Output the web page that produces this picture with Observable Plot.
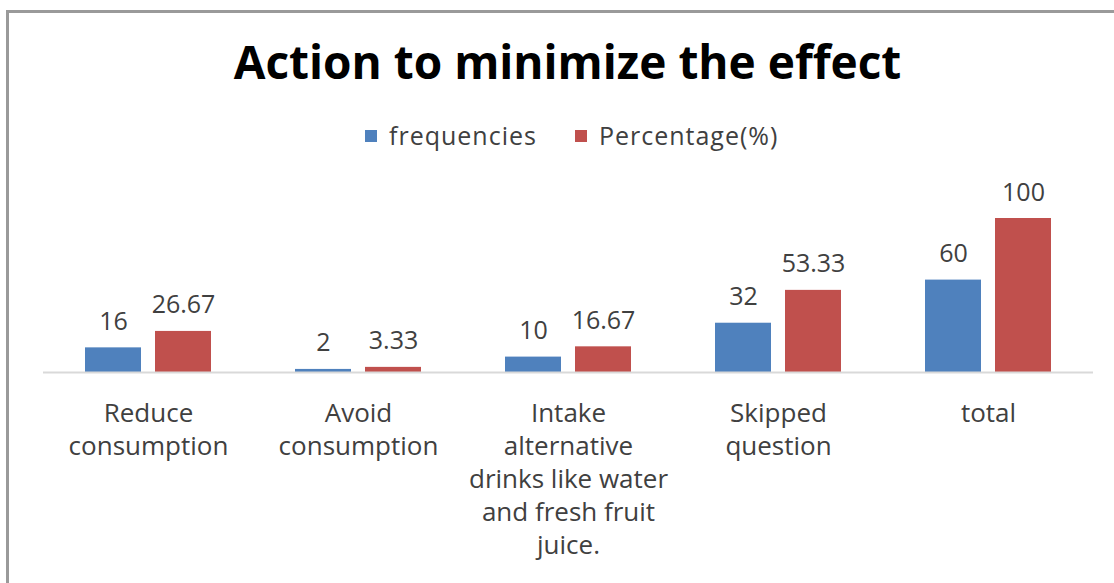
<!DOCTYPE html>
<html>
<head>
<meta charset="utf-8">
<script src="https://cdn.jsdelivr.net/npm/d3@7"></script>
<script src="https://cdn.jsdelivr.net/npm/@observablehq/plot@0.6"></script>
<style>
  html, body { margin: 0; padding: 0; background: #fff; overflow: hidden; }
  body { width: 1114px; height: 583px; position: relative; font-family: "Open Sans", sans-serif; }
  #frameTop { position: absolute; left: 6px; top: 10px; width: 1108px; height: 3px; background: #9a9a9a; }
  #frameLeft { position: absolute; left: 6px; top: 10px; width: 3px; height: 573px; background: #9a9a9a; }
  #title { position: absolute; left: 0; top: 38px; width: 1114px; padding-left: 21px; box-sizing: border-box; text-align: center; font: bold 46px/46px "Open Sans", sans-serif; color: #000; margin: 0; white-space: nowrap; }
  #legend { position: absolute; left: 365px; top: 123px; display: flex; align-items: center; font: 25px/25px "Open Sans", sans-serif; letter-spacing: 1px; color: #404040; white-space: nowrap; }
  #legend .sw { width: 12px; height: 12px; display: inline-block; margin-right: 12px; }
  #legend .item { display: flex; align-items: center; margin-right: 38px; }
  #legend .item:last-child { margin-right: 0; }
  #chart { position: absolute; left: 0; top: 160px; width: 1114px; height: 423px; }
</style>
</head>
<body>
<div id="frameTop"></div>
<div id="frameLeft"></div>
<h1 id="title"></h1>
<div id="legend"></div>
<div id="chart"></div>
<script>
const chartTitle = "Action to minimize the effect";
const categories = [
  "Reduce consumption",
  "Avoid consumption",
  "Intake alternative drinks like water and fresh fruit juice.",
  "Skipped question",
  "total"
];
const categoryLines = [
  ["Reduce", "consumption"],
  ["Avoid", "consumption"],
  ["Intake", "alternative", "drinks like water", "and fresh fruit", "juice."],
  ["Skipped", "question"],
  ["total"]
];
const seriesNames = ["frequencies", "Percentage(%)"];
const seriesColors = ["#4F81BD", "#C0504D"];
const frequencies = [16, 2, 10, 32, 60];
const percentages = [26.67, 3.33, 16.67, 53.33, 100];
const frequencyLabels = ["16", "2", "10", "32", "60"];
const percentageLabels = ["26.67", "3.33", "16.67", "53.33", "100"];

document.getElementById("title").textContent = chartTitle;
const legend = document.getElementById("legend");
seriesNames.forEach((name, i) => {
  const item = document.createElement("span");
  item.className = "item";
  const sw = document.createElement("span");
  sw.className = "sw";
  sw.style.background = seriesColors[i];
  item.appendChild(sw);
  item.appendChild(document.createTextNode(name));
  legend.appendChild(item);
});

const data = categories.flatMap((c, i) => [
  {category: c, series: seriesNames[0], value: frequencies[i], label: frequencyLabels[i]},
  {category: c, series: seriesNames[1], value: percentages[i], label: percentageLabels[i]}
]);
const lineMap = new Map(categories.map((c, i) => [c, categoryLines[i].join("\n")]));

const chart = Plot.plot({
  width: 1114,
  height: 423,
  marginLeft: 41,
  marginRight: 20,
  marginTop: 58,
  marginBottom: 211,
  style: {background: "transparent", fontFamily: "Open Sans, sans-serif"},
  fx: {domain: categories, padding: 0, label: null},
  x: {domain: seriesNames, paddingInner: 0.2, paddingOuter: 0.6, axis: null},
  y: {domain: [0, 100], axis: null},
  color: {domain: seriesNames, range: seriesColors},
  marks: [
    Plot.barY(data, {fx: "category", x: "series", y: "value", fill: "series"}),
    Plot.ruleY([0], {stroke: "#d9d9d9", strokeWidth: 2}),
    Plot.text(data, {fx: "category", x: "series", y: "value", text: "label", dy: -26, fontSize: 25, fill: "#404040"}),
    Plot.axisFx({
      anchor: "bottom",
      tickSize: 0,
      tickPadding: 26,
      tickFormat: d => lineMap.get(d),
      fontSize: 26,
      lineHeight: 1.27,
      fill: "#404040",
      label: null
    })
  ]
});
document.getElementById("chart").appendChild(chart);
</script>
</body>
</html>
